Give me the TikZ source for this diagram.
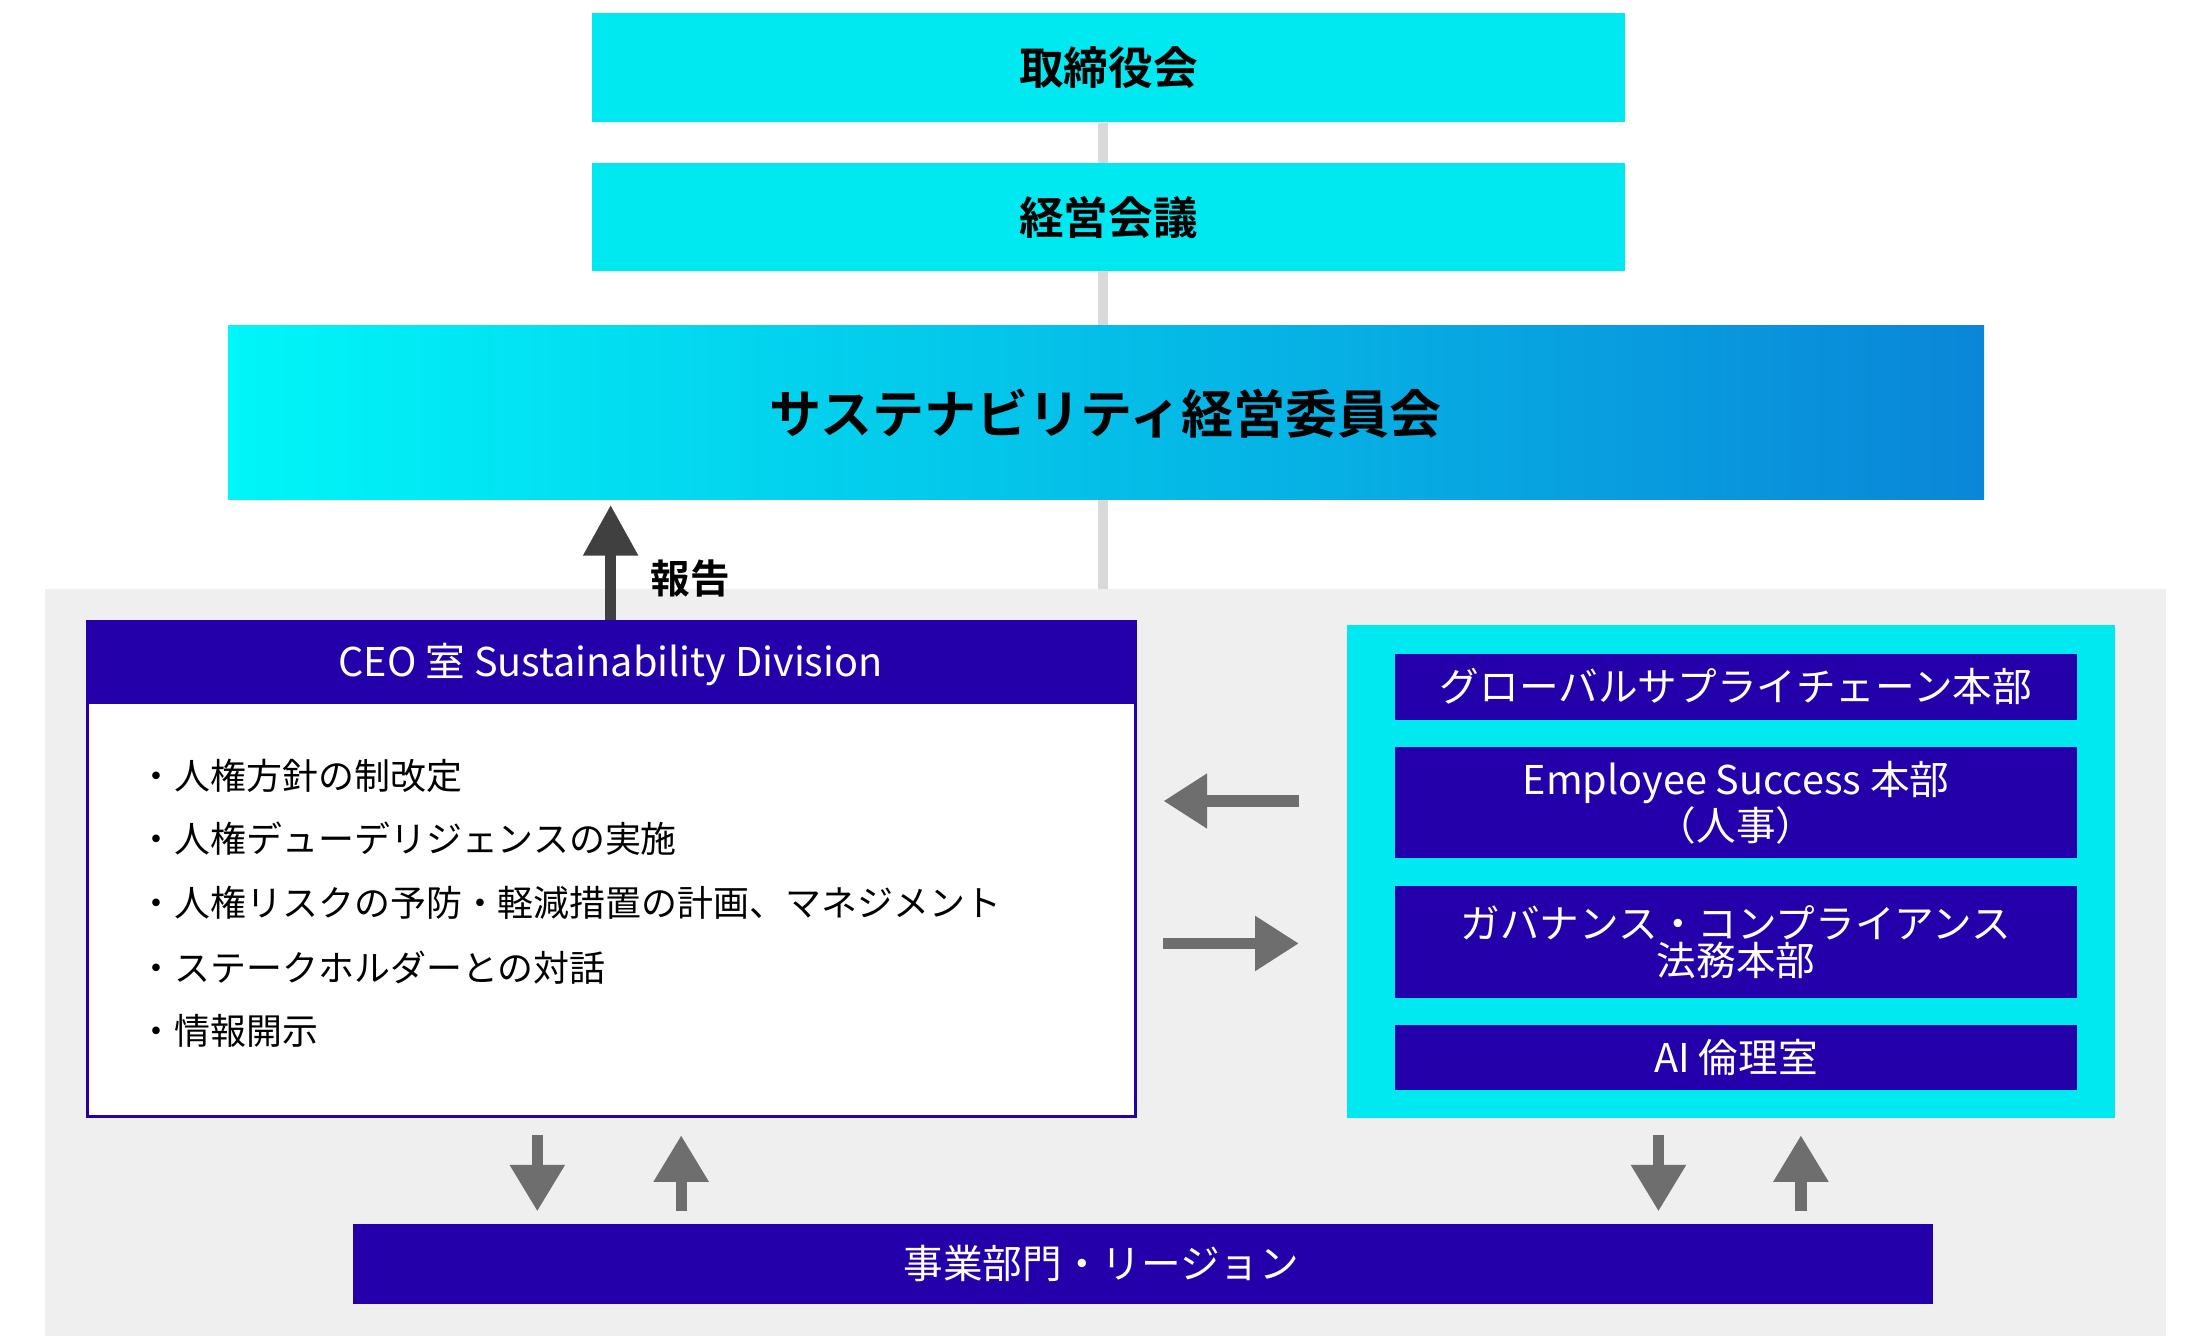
\documentclass[tikz,border=0pt]{standalone}
\usepackage{fontspec}
\setmainfont{Noto Sans CJK JP}
\newfontfamily\jpbold{Noto Sans CJK JP Bold}
\usetikzlibrary{positioning, arrows.meta, shadings}
\definecolor{boxcyan}{HTML}{00E8F0}
\definecolor{indigo}{HTML}{2400AA}
\definecolor{bggray}{HTML}{EFEFEF}
\definecolor{arrgray}{HTML}{6E6E6E}
\definecolor{darkarr}{HTML}{404040}
\definecolor{linegray}{HTML}{D9D9D9}
\tikzset{
  topbox/.style = {fill=boxcyan, minimum width=14.66cm, minimum height=1.54cm, inner sep=0pt,
                   font=\jpbold\fontsize{18}{20}\selectfont},
  unitbox/.style = {fill=indigo, text=white, minimum width=9.68cm, inner sep=0pt, align=center,
                    font=\fontsize{16}{17}\selectfont},
  grayarr/.style = {arrgray, line width=0.16cm, -{Triangle[length=0.62cm, width=0.74cm]}},
  bullet/.style = {anchor=west, inner sep=0pt, font=\fontsize{14.5}{16}\selectfont}
}
\begin{document}
\begin{tikzpicture}[x=0.02cm, y=-0.02cm]
  \useasboundingbox (0,0) rectangle (1560,952);
  % background
  \fill[bggray] (32,418) rectangle (1536,947);
  \draw[linegray, line width=0.14cm] (782,87) -- (782,418);
  % top
  \node[topbox] (board) at (786,48) {取締役会};
  \node[topbox] (mgmt) at (786,154) {経営会議};
  \shade[left color={rgb,255:red,0;green,246;blue,248}, right color={rgb,255:red,10;green,134;blue,216}]
    (162,231) rectangle (1407,354);
  \node[font=\jpbold\fontsize{21}{23}\selectfont] (susco) at (784,293) {サステナビリティ経営委員会};
  \coordinate (reptop) at (433,358);
  \coordinate (repbot) at (433,440);
  \draw[darkarr, line width=0.16cm, -{Triangle[length=0.72cm, width=0.74cm]}] (repbot) -- (reptop);
  \node[anchor=west, font=\jpbold\fontsize{16}{18}\selectfont] (report) at (455,410) {報告};
  % CEO office
  \draw[indigo, line width=1.2pt, fill=white] (62,441) rectangle (805,792);
  \fill[indigo] (62,441) rectangle (805,499);
  \node[text=white, font=\fontsize{16}{18}\selectfont] (ceo) at (433,471) {CEO 室 Sustainability Division};
  \node[bullet] (b1) at (98,550) {・人権方針の制改定};
  \node[bullet] (b2) at (98,595) {・人権デューデリジェンスの実施};
  \node[bullet] (b3) at (98,640) {・人権リスクの予防・軽減措置の計画、マネジメント};
  \node[bullet] (b4) at (98,686) {・ステークホルダーとの対話};
  \node[bullet] (b5) at (98,731) {・情報開示};
  % right group
  \fill[boxcyan] (955,443) rectangle (1500,793);
  \node[unitbox, minimum height=0.94cm] (gsc) at (1231,487) {グローバルサプライチェーン本部};
  \node[unitbox, minimum height=1.58cm, font=\fontsize{16}{15}\selectfont] (es) at (1231,569) {Employee Success 本部\\（人事）};
  \node[unitbox, minimum height=1.58cm, font=\fontsize{16}{15}\selectfont] (gov) at (1231,668) {ガバナンス・コンプライアンス\\法務本部};
  \node[unitbox, minimum height=0.92cm] (ai) at (1231,750) {AI 倫理室};
  % side arrows
  \coordinate (la1) at (921,568); \coordinate (la2) at (825,568);
  \coordinate (ra1) at (825,669); \coordinate (ra2) at (921,669);
  \draw[grayarr] (la1) -- (la2);
  \draw[grayarr] (ra1) -- (ra2);
  % bottom
  \fill[indigo] (250,868) rectangle (1371,925);
  \node[text=white, font=\fontsize{16}{18}\selectfont] (biz) at (781,896) {事業部門・リージョン};
  \foreach \x/\a/\b in {381/805/859, 1176/805/859, 483/859/805, 1277/859/805}{
    \coordinate (va\x) at (\x,\a); \coordinate (vb\x) at (\x,\b);
    \draw[grayarr, -{Triangle[length=0.66cm, width=0.74cm]}] (va\x) -- (vb\x);
  }
\end{tikzpicture}
\end{document}
